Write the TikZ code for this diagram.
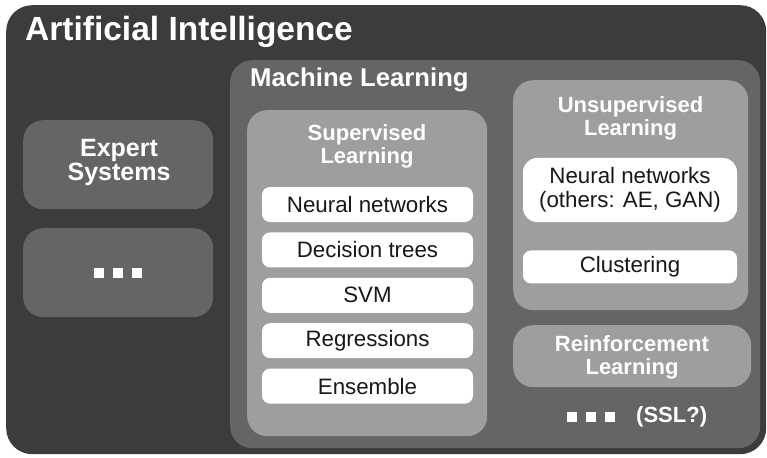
\documentclass[tikz,border=0pt]{standalone}
\usepackage{fontspec}
\setmainfont{Liberation Sans}
\usetikzlibrary{positioning}
\definecolor{aidark}{RGB}{60,60,62}
\definecolor{mlgray}{RGB}{101,101,103}
\definecolor{subgray}{RGB}{158,158,160}
\definecolor{inkgray}{RGB}{24,24,24}

\tikzset{
  panel/.style={anchor=north west, inner sep=0pt, rounded corners=#1},
  headline/.style={text=white, inner sep=0pt, align=center,
    font=\bfseries\fontsize{22}{23}\selectfont},
  method/.style={fill=white, rounded corners=8pt, text=inkgray, inner sep=0pt,
    minimum width=211pt, minimum height=35pt, align=center,
    font=\fontsize{22.3}{24}\selectfont},
  dotsq/.style={fill=white, inner sep=0pt, minimum size=10pt}
}

\begin{document}
\begin{tikzpicture}[x=1pt, y=-1pt]
  \useasboundingbox (0,0) rectangle (767,457);

  % outer frame
  \node[panel=26pt, fill=aidark, minimum width=760pt, minimum height=449pt] (ai) at (6,5) {};
  \node[anchor=base west, inner sep=0pt, text=white,
        font=\bfseries\fontsize{33.5}{35}\selectfont] (aititle) at (25,40.5) {Artificial Intelligence};

  % left column
  \node[panel=20pt, fill=mlgray, minimum width=190pt, minimum height=89pt] (expert) at (23,120) {};
  \node[headline, font=\bfseries\fontsize{25}{24}\selectfont] (experttitle) at (119,162.5) {Expert\\Systems};
  \node[panel=20pt, fill=mlgray, minimum width=190pt, minimum height=89pt] (others) at (23,228) {};
  \foreach \i in {0,1,2}
    \node[dotsq, minimum size=9.5pt] (aidot\i) at (99+19*\i,273) {};

  % machine learning
  \node[panel=22pt, fill=mlgray, minimum width=530pt, minimum height=388pt] (ml) at (230,60) {};
  \node[anchor=base west, inner sep=0pt, text=white,
        font=\bfseries\fontsize{25.7}{27}\selectfont] (mltitle) at (250,86.5) {Machine Learning};

  % supervised
  \node[panel=20pt, fill=subgray, minimum width=240pt, minimum height=326pt] (sl) at (247,110) {};
  \node[headline] (sltitle) at (367,146) {Supervised\\Learning};
  \node[method] (slnn) at (367.5,204.5) {Neural networks};
  \node[method, below=10pt of slnn] (sltree) {Decision trees};
  \node[method, below=10pt of sltree] (slsvm) {SVM};
  \node[method, below=10pt of slsvm] (slreg) {Regressions};
  \node[method, below=10pt of slreg] (slens) {Ensemble};

  % unsupervised
  \node[panel=20pt, fill=subgray, minimum width=235pt, minimum height=230pt] (ul) at (513,80) {};
  \node[headline] (ultitle) at (630.5,118.5) {Unsupervised\\Learning};
  \node[method, minimum width=214pt, minimum height=64pt, rounded corners=14pt] (ulnn) at (630,190)
    {Neural networks\\(others: AE, GAN)};
  \node[method, minimum width=214pt, minimum height=33pt, below=28pt of ulnn] (ulclust) {Clustering};

  % reinforcement
  \node[panel=20pt, fill=subgray, minimum width=238pt, minimum height=62pt] (rl) at (513,325) {};
  \node[headline] (rltitle) at (632,357) {Reinforcement\\Learning};

  \foreach \i in {0,1,2}
    \node[dotsq] (mldot\i) at (572+19*\i,417) {};
  \node[anchor=west, inner sep=0pt, text=white,
        font=\bfseries\fontsize{22}{23}\selectfont] (ssl) at (636,417) {(SSL?)};
\end{tikzpicture}
\end{document}
